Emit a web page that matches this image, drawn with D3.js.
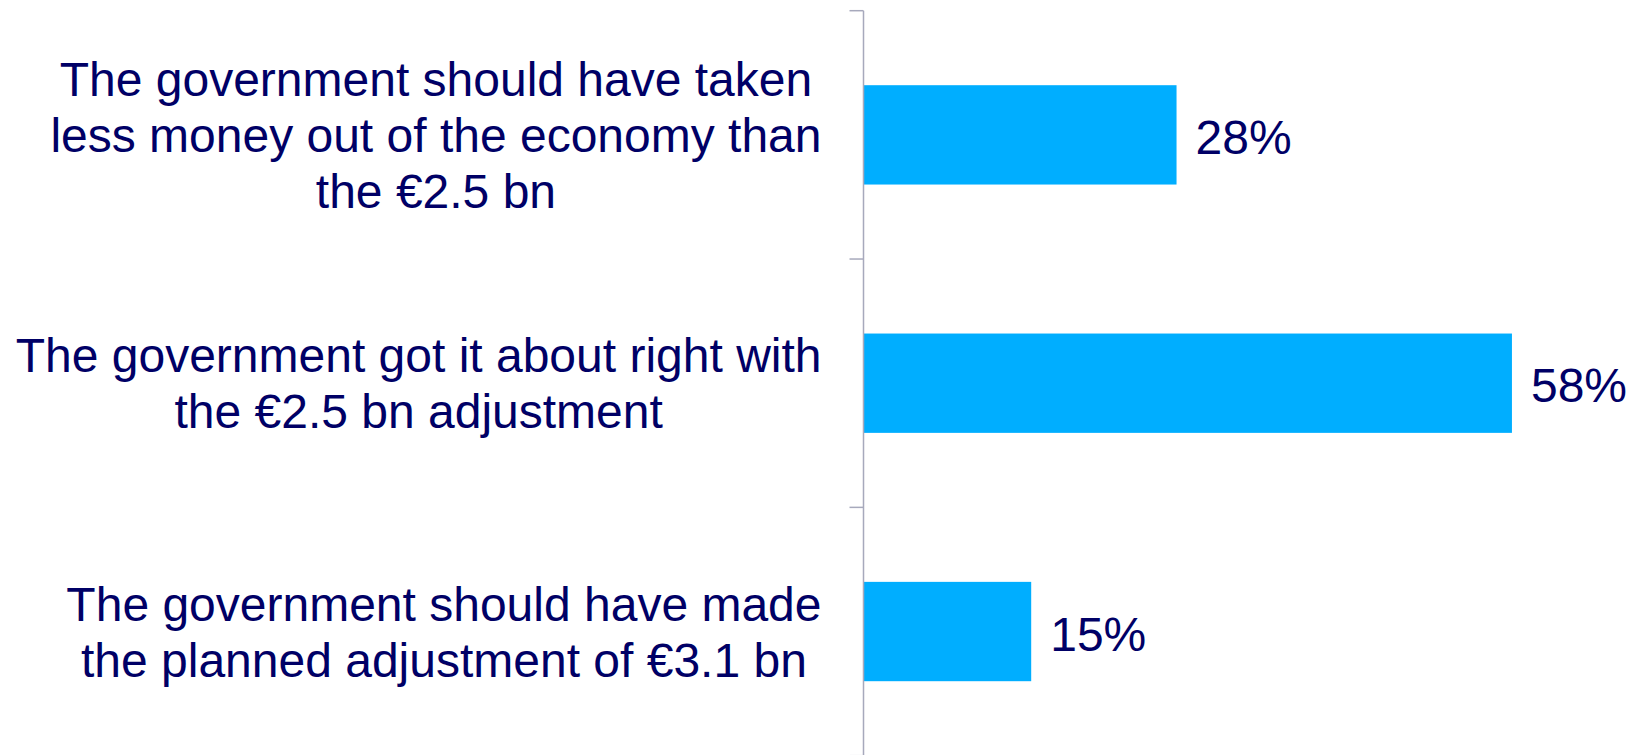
<!DOCTYPE html>
<html>
<head>
<meta charset="utf-8">
<script src="https://cdn.jsdelivr.net/npm/d3@7"></script>
<style>
  html, body { margin: 0; padding: 0; background: #ffffff; }
  svg { display: block; }
</style>
</head>
<body>
<svg id="chart" width="1637" height="755"></svg>
<script>
// Survey responses on the €2.5 bn budget adjustment
const categories = ["less", "right", "planned"];
const labelLines = [
  ["The government should have taken", "less money out of the economy than", "the €2.5 bn"],
  ["The government got it about right with", "the €2.5 bn adjustment"],
  ["The government should have made", "the planned adjustment of €3.1 bn"]
];
const values = [28, 58, 15];
const valueLabels = ["28%", "58%", "15%"];

const W = 1637, H = 755;
const axisX = 863.5;
const textColor = "#000066";
const barColor = "#00AEFF";
const axisColor = "#A7A9BC";
const fontFamily = "'Liberation Sans', Arial, Helvetica, sans-serif";
const fontSize = 48;
const lineStep = 56;

const svg = d3.select("#chart");

const x = d3.scaleLinear().domain([0, 60]).range([axisX, axisX + 60 * 11.18]);
const y = d3.scaleBand()
  .domain(categories)
  .range([10.7, 755.7])
  .paddingInner(0.6)
  .paddingOuter(0.3);

// Bars
svg.append("g").selectAll("rect")
  .data(categories)
  .join("rect")
  .attr("x", x(0))
  .attr("y", d => y(d))
  .attr("width", (d, i) => x(values[i]) - x(0))
  .attr("height", y.bandwidth())
  .attr("fill", barColor);

// Vertical category axis with ticks on band boundaries
const axisG = svg.append("g");
axisG.append("line")
  .attr("x1", axisX).attr("x2", axisX)
  .attr("y1", y.range()[0]).attr("y2", H + 5)
  .attr("stroke", axisColor).attr("stroke-width", 1.5);
const tickYs = d3.range(categories.length + 1).map(i => y.range()[0] + i * y.step());
axisG.selectAll("line.tick")
  .data(tickYs)
  .join("line")
  .attr("class", "tick")
  .attr("x1", axisX - 14).attr("x2", axisX)
  .attr("y1", d => d).attr("y2", d => d)
  .attr("stroke", axisColor).attr("stroke-width", 1.5);

// Category labels: centred blocks, right-aligned to the axis gap
const labelRight = axisX - 42;
const labelsG = svg.append("g")
  .attr("font-family", fontFamily)
  .attr("font-size", fontSize)
  .attr("fill", textColor);

categories.forEach((c, i) => {
  const lines = labelLines[i];
  const cy = y(c) + y.bandwidth() / 2;
  const t = labelsG.append("text").attr("text-anchor", "middle");
  const spans = t.selectAll("tspan")
    .data(lines)
    .join("tspan")
    .text(d => d);
  const widths = [];
  spans.each(function () { widths.push(this.getComputedTextLength()); });
  const maxW = d3.max(widths);
  const cx = labelRight - maxW / 2;
  spans
    .attr("x", cx)
    .attr("y", (d, j) => cy + (j - (lines.length - 1) / 2) * lineStep + 17);
});

// Value labels
svg.append("g")
  .attr("font-family", fontFamily)
  .attr("font-size", fontSize)
  .attr("fill", textColor)
  .selectAll("text")
  .data(categories)
  .join("text")
  .attr("x", (d, i) => x(values[i]) + 19)
  .attr("y", d => y(d) + y.bandwidth() / 2 + 19)
  .text((d, i) => valueLabels[i]);
</script>
</body>
</html>
